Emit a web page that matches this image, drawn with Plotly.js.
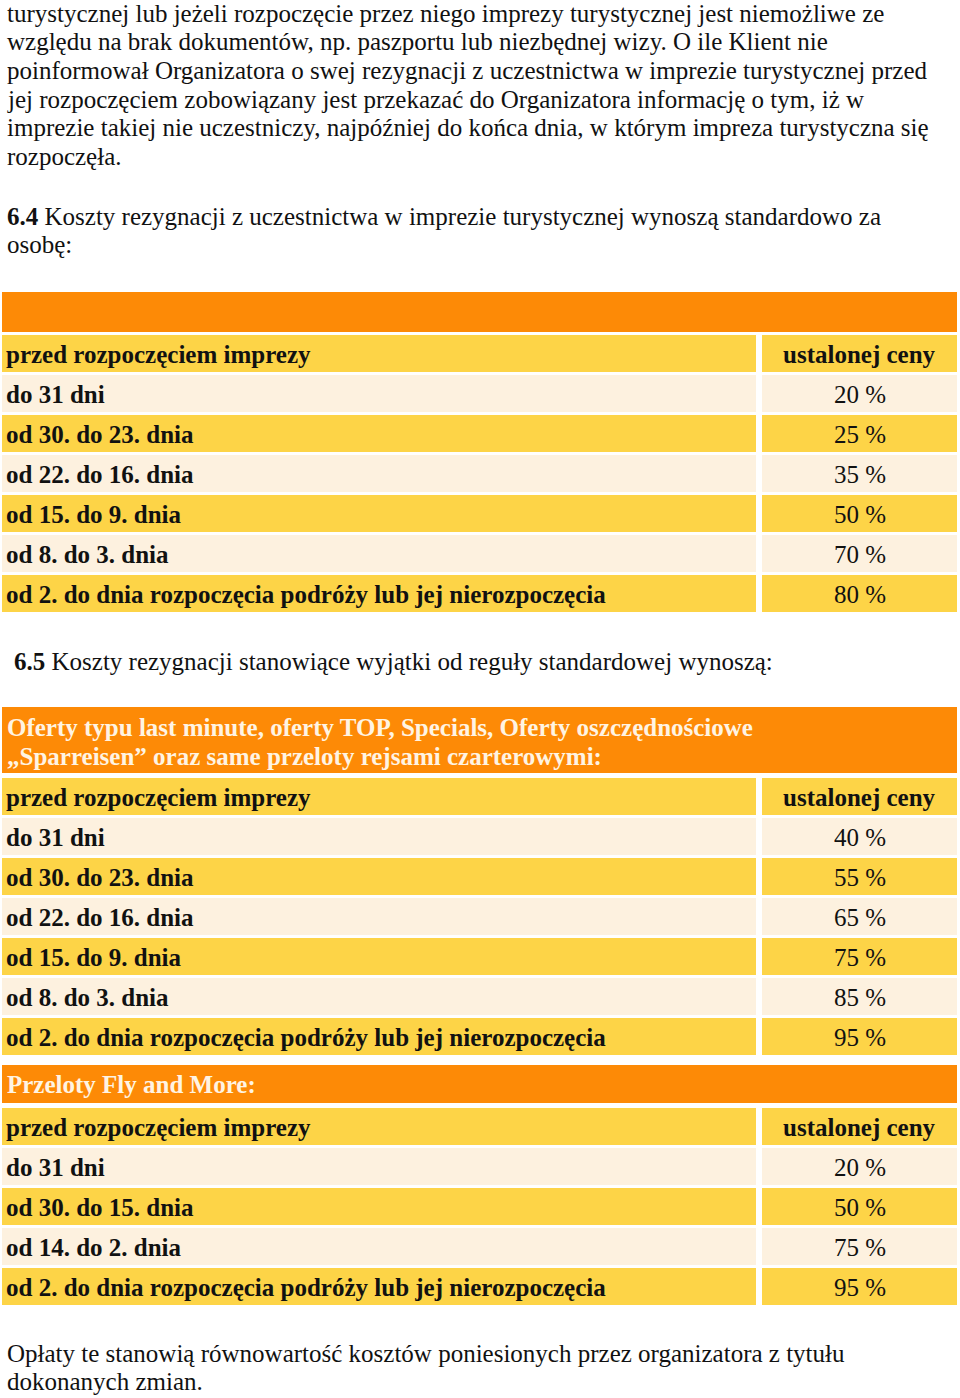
<!DOCTYPE html>
<html>
<head>
<meta charset="utf-8">
<script src="https://cdn.plot.ly/plotly-3.0.1.min.js"></script>
<style>html,body{margin:0;padding:0;background:#fff;}#chart{width:960px;height:1398px;}</style>
</head>
<body>
<div id="chart"></div>
<script>
// ---- content ----
const introLines = [
  "turystycznej lub jeżeli rozpoczęcie przez niego imprezy turystycznej jest niemożliwe ze",
  "względu na brak dokumentów, np. paszportu lub niezbędnej wizy. O ile Klient nie",
  "poinformował Organizatora o swej rezygnacji z uczestnictwa w imprezie turystycznej przed",
  "jej rozpoczęciem zobowiązany jest przekazać do Organizatora informację o tym, iż w",
  "imprezie takiej nie uczestniczy, najpóźniej do końca dnia, w którym impreza turystyczna się",
  "rozpoczęła."
];
const sec64Lines = [
  "<b>6.4</b> Koszty rezygnacji z uczestnictwa w imprezie turystycznej wynoszą standardowo za",
  "osobę:"
];
const sec65Line = "<b>6.5</b> Koszty rezygnacji stanowiące wyjątki od reguły standardowej wynoszą:";
const footerLines = [
  "Opłaty te stanowią równowartość kosztów poniesionych przez organizatora z tytułu",
  "dokonanych zmian."
];
const colHeaders = ["przed rozpoczęciem imprezy", "ustalonej ceny"];

const stdTitle = [];
const stdPeriods = ["do 31 dni", "od 30. do 23. dnia", "od 22. do 16. dnia", "od 15. do 9. dnia", "od 8. do 3. dnia", "od 2. do dnia rozpoczęcia podróży lub jej nierozpoczęcia"];
const stdPercent = [20, 25, 35, 50, 70, 80];

const lmTitle = ["Oferty typu last minute, oferty TOP, Specials, Oferty oszczędnościowe", "„Sparreisen” oraz same przeloty rejsami czarterowymi:"];
const lmPeriods = ["do 31 dni", "od 30. do 23. dnia", "od 22. do 16. dnia", "od 15. do 9. dnia", "od 8. do 3. dnia", "od 2. do dnia rozpoczęcia podróży lub jej nierozpoczęcia"];
const lmPercent = [40, 55, 65, 75, 85, 95];

const flyTitle = ["Przeloty Fly and More:"];
const flyPeriods = ["do 31 dni", "od 30. do 15. dnia", "od 14. do 2. dnia", "od 2. do dnia rozpoczęcia podróży lub jej nierozpoczęcia"];
const flyPercent = [20, 50, 75, 95];

// ---- layout constants ----
const W = 960, H = 1398;
const FONT = "Liberation Serif";
const FS = 25;
const ORANGE = "#fd8a06", YELLOW = "#fdd447", CREAM = "#fdf1df";
const LEFT_X0 = 2, LEFT_X1 = 756, RIGHT_X0 = 762, RIGHT_X1 = 957;
const ROW_PITCH = 40, ROW_H = 37;
const LINE_H = 28.7;

const tables = [
  {title: stdTitle, periods: stdPeriods, pct: stdPercent, orangeTop: 292, orangeH: 40, rowsTop: 335, titleShift: 0},
  {title: lmTitle, periods: lmPeriods, pct: lmPercent, orangeTop: 707, orangeH: 66, rowsTop: 778, titleShift: 2},
  {title: flyTitle, periods: flyPeriods, pct: flyPercent, orangeTop: 1065, orangeH: 38, rowsTop: 1108, titleShift: 0}
];

const cellY = [], cellX = [], cellBase = [], cellW = [], cellC = [];
const ann = [];
function addCell(x0, x1, y0, h, c) {
  cellY.push(y0 + h / 2); cellBase.push(x0); cellX.push(x1 - x0); cellW.push(h); cellC.push(c);
}
function addText(text, x, y, opts) {
  ann.push(Object.assign({
    text: text, x: x, y: y, xref: "x", yref: "y", showarrow: false,
    xanchor: "left", yanchor: "middle",
    font: {family: FONT, size: FS, color: "#111"}
  }, opts || {}));
}

// paragraphs
introLines.forEach((t, i) => addText(t, 5, 13 + i * LINE_H));
sec64Lines.forEach((t, i) => addText(t, 5, 216 + i * LINE_H));
addText(sec65Line, 12, 661);
footerLines.forEach((t, i) => addText(t, 5, 1353 + i * LINE_H));

// tables
tables.forEach(tb => {
  addCell(LEFT_X0, RIGHT_X1, tb.orangeTop, tb.orangeH, ORANGE);
  tb.title.forEach((t, i) => {
    const n = tb.title.length;
    const yc = tb.orangeTop + tb.orangeH / 2 + (i - (n - 1) / 2) * LINE_H + tb.titleShift;
    addText("<b>" + t + "</b>", 5, yc, {font: {family: FONT, size: FS, color: "#fff4e3"}});
  });
  const rows = [[colHeaders[0], colHeaders[1], true]].concat(tb.periods.map((p, i) => [p, tb.pct[i] + " %", false]));
  rows.forEach((r, i) => {
    const top = tb.rowsTop + i * ROW_PITCH;
    const c = (i % 2 === 0) ? YELLOW : CREAM;
    addCell(LEFT_X0, LEFT_X1, top, ROW_H, c);
    addCell(RIGHT_X0, RIGHT_X1, top, ROW_H, c);
    const yc = top + ROW_H / 2 + 1;
    addText("<b>" + r[0] + "</b>", 4, yc);
    addText(r[2] ? "<b>" + r[1] + "</b>" : r[1], (RIGHT_X0 + RIGHT_X1) / 2, yc, {xanchor: "center"});
  });
});

const trace = {
  type: "bar", orientation: "h",
  y: cellY, x: cellX, base: cellBase, width: cellW,
  marker: {color: cellC, line: {width: 0}},
  hoverinfo: "skip", showlegend: false
};

const layout = {
  width: W, height: H,
  margin: {l: 0, r: 0, t: 0, b: 0},
  paper_bgcolor: "#fff", plot_bgcolor: "#fff",
  barmode: "overlay",
  font: {family: FONT},
  xaxis: {range: [0, W], visible: false, fixedrange: true},
  yaxis: {range: [H, 0], visible: false, fixedrange: true},
  annotations: ann,
  showlegend: false
};

Plotly.newPlot("chart", [trace], layout, {staticPlot: true, displayModeBar: false});
</script>
</body>
</html>
